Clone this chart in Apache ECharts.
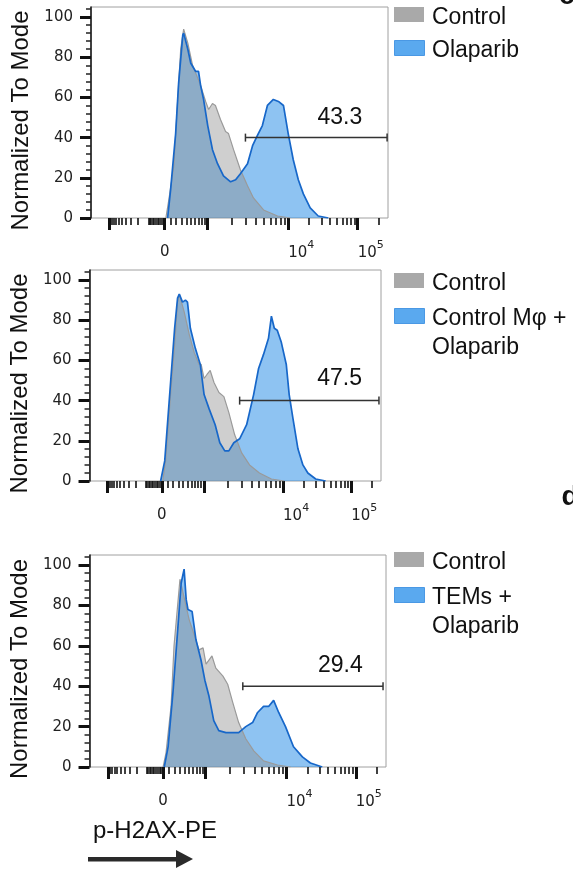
<!DOCTYPE html>
<html>
<head>
<meta charset="utf-8">
<script src="https://cdn.jsdelivr.net/npm/echarts@6/dist/echarts.min.js"></script>
<style>
html,body{margin:0;padding:0;background:#fff}
#main{width:573px;height:876px}
</style>
</head>
<body>
<div id="main"></div>
<script>
// biex axis: fluorescence value -> display channel (0..1000 across the plot)
var decadeValues = [-1000, 0, 1000, 10000, 100000];
var decadeChannels = [62, 248, 392, 664, 898];
var labelledDecades = [10000, 100000];
var xMinorValues = [-900, -800, -700, -600, -500, -400, -300, -200, -100,
  -90, -80, -70, -60, -50, -40, -30, -20, -10,
  100, 200, 300, 400, 500, 600, 700, 800, 900,
  2000, 3000, 4000, 5000, 6000, 7000, 8000, 9000,
  20000, 30000, 40000, 50000, 60000, 70000, 80000, 90000, 200000];
var yMajor = [0, 20, 40, 60, 80, 100];
var yMinor = [4, 8, 12, 16, 24, 28, 32, 36, 44, 48, 52, 56, 64, 68, 72, 76, 84, 88, 92, 96, 104];

// histograms, [channel, % of mode]
var p1Control = [[252,0],[262,9],[279,26],[292,59],[302,84],[312,94],[326,87],[342,76],[369,66],[386,58],[396,54],[409,57],[419,56],[436,49],[453,43],[463,42],[480,34],[503,24],[527,16],[547,10],[581,4],[628,1],[671,0]];
var p1Olaparib = [[258,0],[268,14],[285,42],[295,67],[309,91],[312,92],[326,84],[336,77],[352,73],[362,73],[369,66],[379,59],[393,46],[409,34],[426,27],[446,21],[470,18],[487,19],[503,22],[527,27],[544,36],[560,41],[577,46],[594,56],[614,59],[631,58],[648,56],[664,42],[681,29],[698,19],[715,12],[738,5],[765,1],[799,0]];

var p2Control = [[251,0],[261,10],[278,43],[292,68],[302,89],[308,93],[325,84],[342,73],[359,64],[376,58],[383,58],[393,51],[403,53],[414,55],[427,49],[444,44],[461,42],[478,34],[498,23],[522,14],[549,8],[583,4],[624,1],[668,0]];
var p2MacOlaparib = [[244,0],[258,10],[275,43],[292,76],[302,91],[308,93],[319,89],[329,90],[336,89],[346,76],[363,66],[380,58],[393,43],[410,36],[431,28],[447,19],[464,15],[478,15],[495,19],[515,21],[539,28],[563,43],[580,56],[597,63],[614,71],[624,82],[634,76],[644,75],[658,69],[675,58],[685,43],[698,31],[715,16],[732,8],[749,4],[776,1],[810,0]];

var p3Control = [[248,0],[258,7],[275,30],[285,60],[299,83],[305,93],[319,84],[336,73],[352,66],[369,58],[383,59],[393,51],[413,55],[426,49],[450,45],[466,41],[483,32],[503,22],[527,14],[554,8],[587,3],[634,1],[678,0]];
var p3TemOlaparib = [[252,0],[265,10],[282,38],[299,71],[309,91],[319,98],[326,83],[332,78],[346,77],[359,63],[376,53],[389,43],[403,35],[419,23],[436,18],[460,17],[483,17],[503,17],[527,20],[550,22],[567,27],[587,30],[604,30],[621,33],[638,27],[661,20],[688,10],[718,5],[745,2],[785,0]];

var controlData = [p1Control, p2Control, p3Control];
var treatedData = [p1Olaparib, p2MacOlaparib, p3TemOlaparib];
var treatedNames = ['Olaparib', 'Control Mφ +\nOlaparib', 'TEMs +\nOlaparib'];

// gates: start, end, level, label
var gateStart = [520, 515, 517];
var gateEnd = [997, 993, 990];
var gateLevel = [40, 40, 40];
var gateLabels = ['43.3', '47.5', '29.4'];
var gateLabelX = [838, 858, 846];
var gateLabelY = [50, 51, 50];

var grids = [
  {left: 91, top: 7, right: 185, bottom: 658},
  {left: 87, top: 270, right: 192, bottom: 395},
  {left: 89, top: 555, right: 187, bottom: 109}
];
var legendY = [[18, 51], [284, 319], [563, 598]];

var controlLine = '#9a9a9a', controlFill = 'rgba(140,140,140,0.42)';
var treatedLine = '#1767c9', treatedFill = 'rgba(30,136,229,0.5)';
var controlKey = '#a9a9a9', treatedKey = '#5aa9ef';
var tickFont = 'DejaVu Sans';
var textFont = 'Liberation Sans';

function chan(v) {
  if (v >= decadeValues[2]) {
    var d = Math.log10(v) - 3;
    var i = Math.min(Math.floor(d), 1);
    return decadeChannels[2 + i] + (d - i) * (decadeChannels[3 + i] - decadeChannels[2 + i]);
  }
  if (v >= 0) return decadeChannels[1] + (decadeChannels[2] - decadeChannels[1]) * Math.asinh(v / 500) / Math.asinh(2);
  return decadeChannels[1] - (decadeChannels[1] - decadeChannels[0]) * Math.asinh(-v / 100) / Math.asinh(10);
}

var majorTicks = decadeValues.map(chan);
var minorTicks = xMinorValues.map(chan);
var powerTicks = labelledDecades.map(chan);

function powerLabel(v) {
  var k = 0;
  for (var j = 1; j < powerTicks.length; j++) {
    if (Math.abs(powerTicks[j] - v) < Math.abs(powerTicks[k] - v)) k = j;
  }
  return '{b|10}{s|' + Math.round(Math.log10(labelledDecades[k])) + '}';
}

var xAxes = [], yAxes = [], series = [], graphics = [];

for (var i = 0; i < 3; i++) {
  xAxes.push({
    type: 'value', gridIndex: i, min: 0, max: 1000, position: 'bottom',
    axisLine: {show: false}, splitLine: {show: false},
    axisTick: {show: true, customValues: majorTicks, length: 12, lineStyle: {color: '#111', width: 3}},
    axisLabel: {
      show: true, customValues: powerTicks, align: 'left', margin: 22,
      formatter: powerLabel,
      rich: {
        b: {fontFamily: tickFont, fontSize: 15, color: '#222', lineHeight: 21, verticalAlign: 'bottom'},
        s: {fontFamily: tickFont, fontSize: 11, color: '#222', lineHeight: 11, verticalAlign: 'top'}
      }
    }
  });
  xAxes.push({
    type: 'value', gridIndex: i, min: 0, max: 1000, position: 'bottom',
    axisLine: {show: false}, splitLine: {show: false},
    axisTick: {show: true, customValues: minorTicks, length: 7, lineStyle: {color: '#111', width: 1.6}},
    axisLabel: {
      show: true, customValues: [chan(0)], margin: 27,
      formatter: function () { return '0'; },
      fontFamily: tickFont, fontSize: 15, color: '#222'
    }
  });
  yAxes.push({
    type: 'value', gridIndex: i, min: 0, max: 105, position: 'left',
    name: 'Normalized To Mode', nameLocation: 'middle', nameGap: 55,
    nameTextStyle: {fontFamily: textFont, fontSize: 24, color: '#111', padding: [0, 16, 0, 0]},
    axisLine: {show: true, lineStyle: {color: '#111', width: 1.5}},
    splitLine: {show: false},
    axisTick: {show: true, customValues: yMajor, length: 11, lineStyle: {color: '#111', width: 3}},
    axisLabel: {show: true, customValues: yMajor, margin: 18, fontFamily: tickFont, fontSize: 15, color: '#222'}
  });
  yAxes.push({
    type: 'value', gridIndex: i, min: 0, max: 105, position: 'left',
    axisLine: {show: false}, splitLine: {show: false},
    axisTick: {show: true, customValues: yMinor, length: 5, lineStyle: {color: '#222', width: 1.5}},
    axisLabel: {show: false}
  });

  // treated fill, control fill + line on top, treated outline last
  series.push({
    type: 'line', name: treatedNames[i], xAxisIndex: 2 * i, yAxisIndex: 2 * i,
    data: treatedData[i], symbol: 'none', silent: true, z: 2,
    lineStyle: {width: 0}, areaStyle: {color: treatedFill, opacity: 1}
  });
  series.push({
    type: 'line', name: 'Control', xAxisIndex: 2 * i, yAxisIndex: 2 * i,
    data: controlData[i], symbol: 'none', silent: true, z: 3,
    lineStyle: {width: 1.2, color: controlLine}, areaStyle: {color: controlFill, opacity: 1}
  });
  series.push({
    type: 'line', name: treatedNames[i], xAxisIndex: 2 * i, yAxisIndex: 2 * i,
    data: treatedData[i], symbol: 'none', silent: true, z: 4,
    lineStyle: {width: 1.7, color: treatedLine}
  });
  series.push({
    type: 'custom', xAxisIndex: 2 * i, yAxisIndex: 2 * i, silent: true, z: 5,
    data: [[gateStart[i], gateEnd[i], gateLevel[i], gateLabelX[i], gateLabelY[i], i]],
    renderItem: function (params, api) {
      var a = api.coord([api.value(0), api.value(2)]);
      var b = api.coord([api.value(1), api.value(2)]);
      var t = api.coord([api.value(3), api.value(4)]);
      var st = {stroke: '#333', lineWidth: 1.5};
      return {type: 'group', children: [
        {type: 'line', shape: {x1: a[0], y1: a[1], x2: b[0], y2: b[1]}, style: st},
        {type: 'line', shape: {x1: a[0], y1: a[1] - 4, x2: a[0], y2: a[1] + 4}, style: st},
        {type: 'line', shape: {x1: b[0], y1: b[1] - 4, x2: b[0], y2: b[1] + 4}, style: st},
        {type: 'text', style: {text: gateLabels[api.value(5)], x: t[0], y: t[1], align: 'center', verticalAlign: 'middle',
          font: '23px "Liberation Sans"', fill: '#111'}}
      ]};
    }
  });

  // legend keys
  var ly = legendY[i];
  graphics.push({type: 'rect', left: 394, top: ly[0] - 11, shape: {width: 30, height: 15}, style: {fill: controlKey}});
  graphics.push({type: 'rect', left: 394, top: ly[1] - 11, shape: {width: 30, height: 15}, style: {fill: treatedKey, stroke: '#4a98e4', lineWidth: 1}});
  graphics.push({type: 'text', left: 432, top: ly[0] - 14.5, style: {text: 'Control', font: '23px "Liberation Sans"', fill: '#111', lineHeight: 29}});
  graphics.push({type: 'text', left: 432, top: ly[1] - 14.5, style: {text: treatedNames[i], font: '23px "Liberation Sans"', fill: '#111', lineHeight: 29}});
}

graphics.push({type: 'text', left: 93, top: 819, style: {text: 'p-H2AX-PE', font: '24px "Liberation Sans"', fill: '#111'}});
graphics.push({type: 'rect', left: 88, top: 857, shape: {width: 90, height: 4.5}, style: {fill: '#2a2a2a'}});
graphics.push({type: 'polygon', shape: {points: [[176, 850], [193, 859], [176, 868]]}, style: {fill: '#2a2a2a'}});
graphics.push({type: 'text', x: 559, y: 10, style: {text: 'c', font: 'bold 28px "Liberation Sans"', fill: '#111', verticalAlign: 'bottom'}});
graphics.push({type: 'text', x: 561.5, y: 511, style: {text: 'd', font: 'bold 28px "Liberation Sans"', fill: '#111', verticalAlign: 'bottom'}});

var myChart = echarts.init(document.getElementById('main'));
var option = {
  backgroundColor: '#fff',
  animation: false,
  grid: grids.map(function (g) {
    return {left: g.left, top: g.top, right: g.right, bottom: g.bottom, show: true, borderColor: '#a0a0a0', borderWidth: 1, backgroundColor: 'transparent'};
  }),
  xAxis: xAxes,
  yAxis: yAxes,
  series: series,
  graphic: graphics
};
myChart.setOption(option);
</script>
</body>
</html>
